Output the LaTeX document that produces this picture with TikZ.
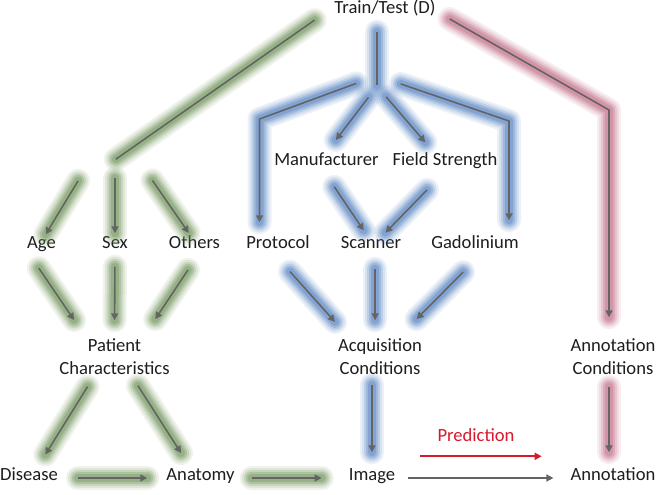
\documentclass[tikz,border=0pt]{standalone}
\usepackage{fontspec}
\setmainfont{Carlito}
\usetikzlibrary{arrows.meta}
\definecolor{linegray}{RGB}{100,100,100}
\definecolor{txtgray}{RGB}{30,30,30}
\definecolor{predred}{RGB}{215,25,45}
\definecolor{glowgreen}{RGB}{100,140,75}
\definecolor{glowblue}{RGB}{70,120,190}
\definecolor{glowpink}{RGB}{190,95,125}

\begin{document}
\begin{tikzpicture}[x=1pt, y=-1pt, >={Triangle[length=7pt,width=7pt]},
  lbl/.style={inner sep=0pt, text=txtgray, font=\fontsize{18.6}{23}\selectfont, text height=0.7em, text depth=0.2em},
  lbl2/.style={inner sep=0pt, text=txtgray, font=\fontsize{18.6}{23}\selectfont, align=center},
  hub/.style={inner sep=0pt, minimum width=0pt, minimum height=0pt},
  glow/.style={
    preaction={draw=#1, -, draw opacity=.1, line width=24pt, line cap=round, line join=round},
    preaction={draw=#1, -, draw opacity=.12, line width=20pt, line cap=round, line join=round},
    preaction={draw=#1, -, draw opacity=.18, line width=16pt, line cap=round, line join=round},
    preaction={draw=#1, -, draw opacity=.25, line width=12pt, line cap=round, line join=round},
    preaction={draw=#1, -, draw opacity=.3, line width=8pt, line cap=round, line join=round}},
  link/.style={draw=linegray, line width=1.6pt},
  arr/.style={link, ->}]
  \path[use as bounding box, fill=white] (0,0) rectangle (656,495);
  % labels
  \node[lbl] (train) at (385,11) {Train/Test (D)};
  \node[lbl] (manuf) at (326.5,163) {Manufacturer};
  \node[lbl] (field) at (445,163) {Field Strength};
  \node[lbl] (age) at (41.5,246) {Age};
  \node[lbl] (sex) at (115,246) {Sex};
  \node[lbl] (others) at (194.5,246) {Others};
  \node[lbl] (protocol) at (278,246) {Protocol};
  \node[lbl] (scanner) at (371,246) {Scanner};
  \node[lbl] (gado) at (475,246) {Gadolinium};
  \node[lbl2] (patchar) at (114.5,356.5) {Patient\\Characteristics};
  \node[lbl2] (acqcond) at (380,356.5) {Acquisition\\Conditions};
  \node[lbl2] (anncond) at (613,356.5) {Annotation\\Conditions};
  \node[lbl] (disease) at (29,478) {Disease};
  \node[lbl] (anatomy) at (200.5,478) {Anatomy};
  \node[lbl] (image) at (372,478) {Image};
  \node[lbl] (annot) at (613,478) {Annotation};
  \node[lbl, text=predred] (pred) at (476,439) {Prediction};
  % branch points
  \node[hub, minimum width=63pt, minimum height=12pt] (pathub) at (115,166) {};
  \node[hub, minimum height=10pt] (acqhub) at (377,81) {};
  \coordinate (lcorner) at (259.5,119);
  \coordinate (rcorner) at (509,121);
  \coordinate (pcorner) at (609,110);
  % patient side
  \draw[link, glow=glowgreen, shorten <=24pt, shorten >=1pt] (train.north west) -- (pathub.north);
  \draw[arr, glow=glowgreen, shorten <=10pt, shorten >=8pt] (pathub.south west) -- (age.north);
  \draw[arr, glow=glowgreen, shorten <=6pt, shorten >=8pt] (pathub.south) -- (sex.north);
  \draw[arr, glow=glowgreen, shorten <=10pt, shorten >=10pt] (pathub.south east) -- (others.north);
  \draw[arr, glow=glowgreen, shorten <=21pt, shorten >=22pt] (age.south west) -- (patchar.147);
  \draw[arr, glow=glowgreen, shorten <=16pt, shorten >=18pt] (sex.south) -- (patchar.north);
  \draw[arr, glow=glowgreen, shorten <=23pt, shorten >=23pt] (others.-37) -- (patchar.33);
  \draw[arr, glow=glowgreen, shorten <=14pt, shorten >=22pt] (patchar.-137) -- (disease.45);
  \draw[arr, glow=glowgreen, shorten <=13pt, shorten >=24pt] (patchar.-48) -- (anatomy.144);
  \draw[arr, glow=glowgreen, shorten <=20pt, shorten >=19pt] (disease.east) -- (anatomy.west);
  \draw[arr, glow=glowgreen, shorten <=17pt, shorten >=27pt] (anatomy.east) -- (image.west);
  % acquisition side
  \draw[link, glow=glowblue, shorten <=16pt, shorten >=1pt] (train.south -| acqhub) -- (acqhub.south);
  \draw[arr, glow=glowblue, shorten <=22pt, shorten >=19pt] (acqhub.north) -- (lcorner) -- (lcorner |- protocol.north);
  \draw[arr, glow=glowblue, shorten <=25pt, shorten >=21pt] (acqhub.north) -- (rcorner) -- (rcorner |- gado.north);
  \draw[arr, glow=glowblue, shorten <=14pt, shorten >=23pt] (acqhub.south) -- (manuf.135);
  \draw[arr, glow=glowblue, shorten <=14pt, shorten >=21pt] (acqhub.south) -- (field.142);
  \draw[arr, glow=glowblue, shorten <=23pt, shorten >=13pt] (manuf.-137) -- (scanner.north);
  \draw[arr, glow=glowblue, shorten <=31pt, shorten >=12pt] (field.-52) -- (scanner.38);
  \draw[arr, glow=glowblue, shorten <=28pt, shorten >=22pt] (protocol.-145) -- (acqcond.149);
  \draw[arr, glow=glowblue, shorten <=18pt, shorten >=18pt] (acqcond.105 |- scanner.south) -- (acqcond.105);
  \draw[arr, glow=glowblue, shorten <=30pt, shorten >=27pt] (gado.-27) -- (acqcond.46);
  \draw[arr, glow=glowblue, shorten <=10pt, shorten >=21pt] (image |- acqcond.south) -- (image.north);
  % annotation side
  \draw[arr, glow=glowpink, shorten <=16pt, shorten >=21pt] (train.east) -- (pcorner) -- (pcorner |- anncond.north);
  \draw[arr, glow=glowpink, shorten <=12pt, shorten >=21pt] (anncond.south -| pcorner) -- (annot.north -| pcorner);
  % prediction
  \draw[arr, shorten <=13pt, shorten >=17pt] (image.east) -- (annot.west);
  \draw[arr, draw=predred, line width=2.2pt] ([xshift=-17pt,yshift=-12.6pt]pred.south west) -- ([xshift=27pt,yshift=-12.6pt]pred.south east);
\end{tikzpicture}
\end{document}
